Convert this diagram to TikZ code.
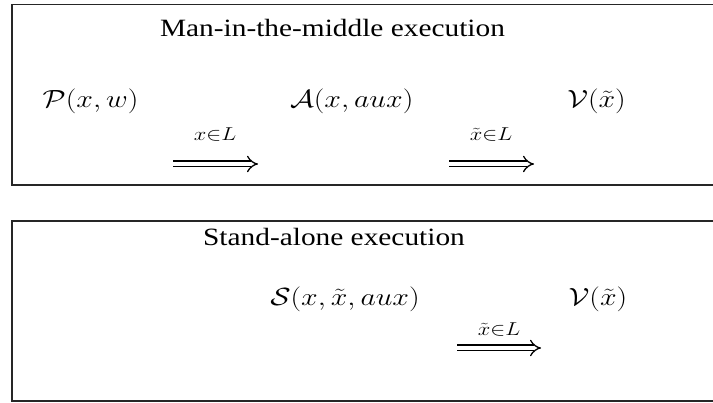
\documentclass[tikz,border=0pt]{standalone}
\usepackage{amsmath}
\usepackage{fontspec}
\setmainfont{Liberation Serif}
\usepackage{graphicx}
\usetikzlibrary{arrows.meta}
\newcommand{\wid}[1]{\scalebox{1.2}[1]{#1}}
\newcommand{\twid}[1]{\scalebox{1.18}[1]{#1}}
\newcommand{\lwid}[1]{\scalebox{1.3}[1.08]{#1}}
\begin{document}
\begin{tikzpicture}[x=1pt,y=-1pt,
  frame/.style={draw=black!85, line width=1.6pt},
  txt/.style={anchor=base, inner sep=0pt, font=\fontsize{24.88}{30}\selectfont},
  lbl/.style={anchor=base, inner sep=0pt, font=\fontsize{17.28}{20}\selectfont},
  darrow/.style={double, double distance=4.4pt, line width=1.3pt, -{Implies}}]
\useasboundingbox (0,0) rectangle (713,403);
% top box
\draw[frame] (12,4.5) rectangle (730,185);
\node[txt] (t1) at (332.5,37) {\twid{Man-in-the-middle execution}};
\node[txt] (p) at (90.5,108) {\wid{$\mathcal{P}(x,w)$}};
\node[txt] (a) at (351.7,108) {\wid{$\mathcal{A}(x,aux)$}};
\node[txt] (v1) at (596.5,108) {\wid{$\mathcal{V}(\tilde{x})$}};
\node[lbl] (l1) at (215,141) {\lwid{$x{\in}L$}};
\node[lbl] (l2) at (491,141) {\lwid{$\tilde{x}{\in}L$}};
\coordinate (a1s) at (173,164);
\coordinate (a1e) at (258,164);
\coordinate (a2s) at (449,164);
\coordinate (a2e) at (534,164);
\draw[darrow] (a1s) -- (a1e);
\draw[darrow] (a2s) -- (a2e);
% bottom box
\draw[frame] (12,221) rectangle (730,401);
\node[txt] (t2) at (334,246) {\twid{Stand-alone execution}};
\node[txt] (s) at (345,306) {\wid{$\mathcal{S}(x,\tilde{x},aux)$}};
\node[txt] (v2) at (598,306) {\wid{$\mathcal{V}(\tilde{x})$}};
\node[lbl] (l3) at (499,336) {\lwid{$\tilde{x}{\in}L$}};
\coordinate (a3s) at (457,348);
\coordinate (a3e) at (541,348);
\draw[darrow] (a3s) -- (a3e);
\end{tikzpicture}
\end{document}
